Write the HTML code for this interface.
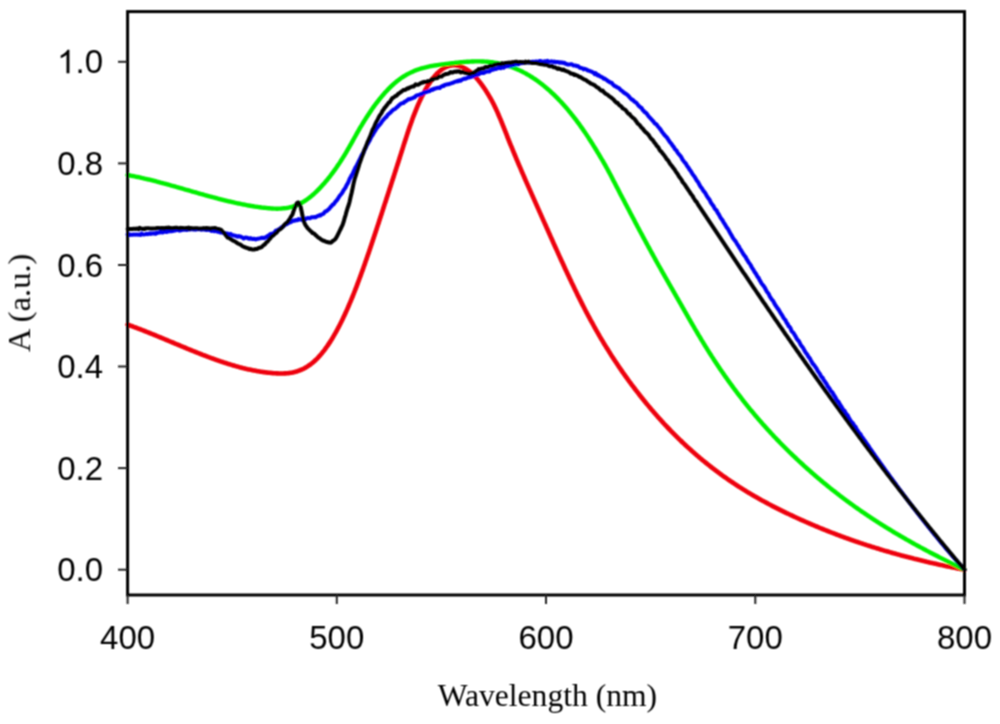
<!DOCTYPE html>
<html><head><meta charset="utf-8"><style>
html,body{margin:0;padding:0;background:#fff;}
body{width:1000px;height:724px;overflow:hidden;font-family:"Liberation Sans",sans-serif;}
svg{display:block;}
</style></head><body>
<svg width="1000" height="724" viewBox="0 0 1000 724">
<defs><filter id="bl" filterUnits="userSpaceOnUse" x="0" y="0" width="1000" height="724"><feConvolveMatrix order="3" kernelMatrix="1 2 1 2 4 2 1 2 1" divisor="16" edgeMode="none"/></filter></defs>
<rect width="1000" height="724" fill="#fff"/>
<g filter="url(#bl)">
<g fill="none" stroke-linejoin="round" stroke-linecap="round">
<path d="M127.6 324.6 L128.6 325.0 L129.6 325.3 L130.6 325.7 L131.6 326.0 L132.6 326.4 L133.6 326.8 L134.6 327.2 L135.6 327.5 L136.6 327.9 L137.6 328.3 L138.6 328.7 L139.6 329.0 L140.6 329.4 L141.6 329.8 L142.6 330.2 L143.6 330.6 L144.6 331.0 L145.6 331.4 L146.6 331.8 L147.6 332.2 L148.6 332.6 L149.6 333.0 L150.6 333.4 L151.6 333.8 L152.6 334.2 L153.6 334.6 L154.6 335.0 L155.6 335.4 L156.6 335.8 L157.6 336.3 L158.6 336.7 L159.6 337.1 L160.6 337.5 L161.6 337.9 L162.6 338.3 L163.6 338.7 L164.6 339.2 L165.6 339.6 L166.6 340.0 L167.6 340.4 L168.6 340.8 L169.6 341.3 L170.6 341.7 L171.6 342.1 L172.6 342.5 L173.6 342.9 L174.6 343.4 L175.6 343.8 L176.6 344.2 L177.6 344.6 L178.6 345.0 L179.6 345.4 L180.6 345.9 L181.6 346.3 L182.6 346.7 L183.6 347.1 L184.6 347.5 L185.6 347.9 L186.6 348.4 L187.6 348.8 L188.6 349.2 L189.6 349.6 L190.6 350.0 L191.6 350.4 L192.6 350.8 L193.6 351.2 L194.6 351.6 L195.6 352.0 L196.6 352.4 L197.6 352.8 L198.6 353.2 L199.6 353.6 L200.6 354.0 L201.6 354.4 L202.6 354.8 L203.6 355.2 L204.6 355.5 L205.6 355.9 L206.6 356.3 L207.6 356.7 L208.6 357.1 L209.6 357.4 L210.6 357.8 L211.6 358.2 L212.6 358.5 L213.6 358.9 L214.6 359.3 L215.6 359.6 L216.6 360.0 L217.6 360.3 L218.6 360.7 L219.6 361.0 L220.6 361.4 L221.6 361.7 L222.6 362.0 L223.6 362.4 L224.6 362.7 L225.6 363.0 L226.6 363.3 L227.6 363.7 L228.6 364.0 L229.6 364.3 L230.6 364.6 L231.6 364.9 L232.6 365.2 L233.6 365.5 L234.6 365.8 L235.6 366.1 L236.6 366.4 L237.6 366.6 L238.6 366.9 L239.6 367.2 L240.6 367.4 L241.6 367.7 L242.6 368.0 L243.6 368.2 L244.6 368.4 L245.6 368.7 L246.6 368.9 L247.6 369.2 L248.6 369.4 L249.6 369.6 L250.6 369.8 L251.6 370.0 L252.6 370.2 L253.6 370.4 L254.6 370.6 L255.6 370.8 L256.6 371.0 L257.6 371.2 L258.6 371.3 L259.6 371.5 L260.6 371.7 L261.6 371.8 L262.6 372.0 L263.6 372.1 L264.6 372.3 L265.6 372.4 L266.6 372.5 L267.6 372.6 L268.6 372.7 L269.6 372.8 L270.6 372.9 L271.6 373.0 L272.6 373.1 L273.6 373.2 L274.6 373.3 L275.6 373.3 L276.6 373.4 L277.6 373.4 L278.6 373.5 L279.6 373.5 L280.6 373.5 L281.6 373.5 L282.6 373.5 L283.6 373.5 L284.6 373.4 L285.6 373.4 L286.6 373.3 L287.6 373.2 L288.6 373.1 L289.6 373.0 L290.6 372.8 L291.6 372.7 L292.6 372.5 L293.6 372.2 L294.6 372.0 L295.6 371.7 L296.6 371.5 L297.6 371.1 L298.6 370.8 L299.6 370.4 L300.6 370.0 L301.6 369.6 L302.6 369.2 L303.6 368.7 L304.6 368.1 L305.6 367.6 L306.6 367.0 L307.6 366.4 L308.6 365.7 L309.6 365.0 L310.6 364.3 L311.6 363.5 L312.6 362.7 L313.6 361.9 L314.6 361.0 L315.6 360.0 L316.6 359.1 L317.6 358.1 L318.6 357.0 L319.6 355.9 L320.6 354.8 L321.6 353.6 L322.6 352.3 L323.6 351.1 L324.6 349.8 L325.6 348.4 L326.6 347.0 L327.6 345.6 L328.6 344.1 L329.6 342.6 L330.6 341.1 L331.6 339.5 L332.6 337.8 L333.6 336.1 L334.6 334.4 L335.6 332.7 L336.6 330.9 L337.6 329.0 L338.6 327.1 L339.6 325.2 L340.6 323.2 L341.6 321.2 L342.6 319.2 L343.6 317.1 L344.6 315.0 L345.6 312.8 L346.6 310.6 L347.6 308.3 L348.6 306.0 L349.6 303.7 L350.6 301.3 L351.6 298.9 L352.6 296.5 L353.6 294.0 L354.6 291.5 L355.6 288.9 L356.6 286.3 L357.6 283.7 L358.6 281.0 L359.6 278.3 L360.6 275.6 L361.6 272.8 L362.6 270.1 L363.6 267.3 L364.6 264.4 L365.6 261.6 L366.6 258.7 L367.6 255.8 L368.6 252.9 L369.6 249.9 L370.6 247.0 L371.6 244.0 L372.6 241.0 L373.6 238.0 L374.6 235.0 L375.6 232.0 L376.6 229.0 L377.6 225.9 L378.6 222.9 L379.6 219.8 L380.6 216.7 L381.6 213.7 L382.6 210.6 L383.6 207.5 L384.6 204.4 L385.6 201.4 L386.6 198.3 L387.6 195.2 L388.6 192.1 L389.6 189.1 L390.6 186.0 L391.6 182.9 L392.6 179.8 L393.6 176.7 L394.6 173.6 L395.6 170.5 L396.6 167.4 L397.6 164.3 L398.6 161.2 L399.6 158.0 L400.6 154.9 L401.6 151.7 L402.6 148.6 L403.6 145.4 L404.6 142.3 L405.6 139.2 L406.6 136.1 L407.6 133.1 L408.6 130.1 L409.6 127.1 L410.6 124.2 L411.6 121.4 L412.6 118.6 L413.6 115.9 L414.6 113.3 L415.6 110.8 L416.6 108.3 L417.6 105.9 L418.6 103.6 L419.6 101.4 L420.6 99.2 L421.6 97.1 L422.6 95.1 L423.6 93.1 L424.6 91.3 L425.6 89.4 L426.6 87.7 L427.6 86.0 L428.6 84.4 L429.6 82.9 L430.6 81.4 L431.6 80.0 L432.6 78.7 L433.6 77.4 L434.6 76.2 L435.6 75.1 L436.6 74.0 L437.6 73.0 L438.6 72.1 L439.6 71.2 L440.6 70.4 L441.6 69.6 L442.6 68.9 L443.6 68.3 L444.6 67.7 L445.6 67.2 L446.6 66.8 L447.6 66.4 L448.6 66.0 L449.6 65.8 L450.6 65.5 L451.6 65.4 L452.6 65.3 L453.6 65.2 L454.6 65.2 L455.6 65.3 L456.6 65.4 L457.6 65.5 L458.6 65.8 L459.6 66.0 L460.6 66.4 L461.6 66.7 L462.6 67.2 L463.6 67.6 L464.6 68.2 L465.6 68.7 L466.6 69.4 L467.6 70.0 L468.6 70.8 L469.6 71.5 L470.6 72.4 L471.6 73.2 L472.6 74.1 L473.6 75.1 L474.6 76.1 L475.6 77.2 L476.6 78.3 L477.6 79.4 L478.6 80.6 L479.6 81.9 L480.6 83.2 L481.6 84.5 L482.6 85.9 L483.6 87.3 L484.6 88.8 L485.6 90.3 L486.6 91.9 L487.6 93.5 L488.6 95.1 L489.6 96.8 L490.6 98.5 L491.6 100.3 L492.6 102.2 L493.6 104.1 L494.6 106.2 L495.6 108.3 L496.6 110.4 L497.6 112.7 L498.6 115.0 L499.6 117.3 L500.6 119.7 L501.6 122.2 L502.6 124.7 L503.6 127.2 L504.6 129.7 L505.6 132.2 L506.6 134.7 L507.6 137.3 L508.6 139.8 L509.6 142.3 L510.6 144.8 L511.6 147.2 L512.6 149.7 L513.6 152.1 L514.6 154.5 L515.6 156.9 L516.6 159.3 L517.6 161.7 L518.6 164.1 L519.6 166.4 L520.6 168.7 L521.6 171.1 L522.6 173.4 L523.6 175.7 L524.6 178.0 L525.6 180.3 L526.6 182.6 L527.6 184.9 L528.6 187.1 L529.6 189.4 L530.6 191.7 L531.6 193.9 L532.6 196.2 L533.6 198.4 L534.6 200.7 L535.6 202.9 L536.6 205.2 L537.6 207.4 L538.6 209.6 L539.6 211.9 L540.6 214.1 L541.6 216.4 L542.6 218.6 L543.6 220.9 L544.6 223.1 L545.6 225.3 L546.6 227.6 L547.6 229.8 L548.6 232.1 L549.6 234.3 L550.6 236.6 L551.6 238.8 L552.6 241.0 L553.6 243.3 L554.6 245.5 L555.6 247.7 L556.6 249.9 L557.6 252.1 L558.6 254.4 L559.6 256.6 L560.6 258.8 L561.6 261.0 L562.6 263.1 L563.6 265.3 L564.6 267.5 L565.6 269.7 L566.6 271.8 L567.6 274.0 L568.6 276.1 L569.6 278.2 L570.6 280.3 L571.6 282.5 L572.6 284.5 L573.6 286.6 L574.6 288.7 L575.6 290.8 L576.6 292.8 L577.6 294.9 L578.6 296.9 L579.6 298.9 L580.6 300.9 L581.6 302.9 L582.6 304.9 L583.6 306.8 L584.6 308.8 L585.6 310.7 L586.6 312.6 L587.6 314.5 L588.6 316.4 L589.6 318.2 L590.6 320.1 L591.6 321.9 L592.6 323.7 L593.6 325.5 L594.6 327.3 L595.6 329.1 L596.6 330.9 L597.6 332.6 L598.6 334.3 L599.6 336.1 L600.6 337.8 L601.6 339.5 L602.6 341.1 L603.6 342.8 L604.6 344.5 L605.6 346.1 L606.6 347.7 L607.6 349.3 L608.6 350.9 L609.6 352.5 L610.6 354.1 L611.6 355.7 L612.6 357.2 L613.6 358.7 L614.6 360.3 L615.6 361.8 L616.6 363.3 L617.6 364.8 L618.6 366.3 L619.6 367.7 L620.6 369.2 L621.6 370.6 L622.6 372.1 L623.6 373.5 L624.6 374.9 L625.6 376.3 L626.6 377.7 L627.6 379.1 L628.6 380.5 L629.6 381.9 L630.6 383.2 L631.6 384.6 L632.6 385.9 L633.6 387.2 L634.6 388.5 L635.6 389.8 L636.6 391.1 L637.6 392.4 L638.6 393.7 L639.6 395.0 L640.6 396.3 L641.6 397.5 L642.6 398.8 L643.6 400.0 L644.6 401.2 L645.6 402.5 L646.6 403.7 L647.6 404.9 L648.6 406.1 L649.6 407.3 L650.6 408.5 L651.6 409.7 L652.6 410.8 L653.6 412.0 L654.6 413.1 L655.6 414.3 L656.6 415.4 L657.6 416.6 L658.6 417.7 L659.6 418.8 L660.6 419.9 L661.6 421.0 L662.6 422.1 L663.6 423.2 L664.6 424.3 L665.6 425.3 L666.6 426.4 L667.6 427.5 L668.6 428.5 L669.6 429.5 L670.6 430.6 L671.6 431.6 L672.6 432.6 L673.6 433.6 L674.6 434.6 L675.6 435.6 L676.6 436.6 L677.6 437.6 L678.6 438.6 L679.6 439.6 L680.6 440.5 L681.6 441.5 L682.6 442.5 L683.6 443.4 L684.6 444.3 L685.6 445.3 L686.6 446.2 L687.6 447.1 L688.6 448.0 L689.6 448.9 L690.6 449.8 L691.6 450.7 L692.6 451.6 L693.6 452.5 L694.6 453.4 L695.6 454.3 L696.6 455.1 L697.6 456.0 L698.6 456.8 L699.6 457.7 L700.6 458.5 L701.6 459.4 L702.6 460.2 L703.6 461.0 L704.6 461.8 L705.6 462.6 L706.6 463.4 L707.6 464.2 L708.6 465.0 L709.6 465.8 L710.6 466.6 L711.6 467.4 L712.6 468.2 L713.6 468.9 L714.6 469.7 L715.6 470.4 L716.6 471.2 L717.6 471.9 L718.6 472.7 L719.6 473.4 L720.6 474.1 L721.6 474.9 L722.6 475.6 L723.6 476.3 L724.6 477.0 L725.6 477.7 L726.6 478.4 L727.6 479.1 L728.6 479.8 L729.6 480.5 L730.6 481.2 L731.6 481.8 L732.6 482.5 L733.6 483.2 L734.6 483.9 L735.6 484.5 L736.6 485.2 L737.6 485.8 L738.6 486.5 L739.6 487.1 L740.6 487.7 L741.6 488.4 L742.6 489.0 L743.6 489.6 L744.6 490.2 L745.6 490.9 L746.6 491.5 L747.6 492.1 L748.6 492.7 L749.6 493.3 L750.6 493.9 L751.6 494.5 L752.6 495.1 L753.6 495.6 L754.6 496.2 L755.6 496.8 L756.6 497.4 L757.6 497.9 L758.6 498.5 L759.6 499.1 L760.6 499.6 L761.6 500.2 L762.6 500.7 L763.6 501.3 L764.6 501.8 L765.6 502.4 L766.6 502.9 L767.6 503.4 L768.6 504.0 L769.6 504.5 L770.6 505.0 L771.6 505.6 L772.6 506.1 L773.6 506.6 L774.6 507.1 L775.6 507.6 L776.6 508.1 L777.6 508.6 L778.6 509.1 L779.6 509.6 L780.6 510.1 L781.6 510.6 L782.6 511.1 L783.6 511.6 L784.6 512.1 L785.6 512.6 L786.6 513.1 L787.6 513.5 L788.6 514.0 L789.6 514.5 L790.6 515.0 L791.6 515.4 L792.6 515.9 L793.6 516.4 L794.6 516.8 L795.6 517.3 L796.6 517.7 L797.6 518.2 L798.6 518.7 L799.6 519.1 L800.6 519.6 L801.6 520.0 L802.6 520.5 L803.6 520.9 L804.6 521.3 L805.6 521.8 L806.6 522.2 L807.6 522.7 L808.6 523.1 L809.6 523.5 L810.6 524.0 L811.6 524.4 L812.6 524.8 L813.6 525.2 L814.6 525.7 L815.6 526.1 L816.6 526.5 L817.6 526.9 L818.6 527.3 L819.6 527.8 L820.6 528.2 L821.6 528.6 L822.6 529.0 L823.6 529.4 L824.6 529.8 L825.6 530.2 L826.6 530.6 L827.6 531.0 L828.6 531.4 L829.6 531.8 L830.6 532.2 L831.6 532.6 L832.6 532.9 L833.6 533.3 L834.6 533.7 L835.6 534.1 L836.6 534.5 L837.6 534.9 L838.6 535.2 L839.6 535.6 L840.6 536.0 L841.6 536.4 L842.6 536.7 L843.6 537.1 L844.6 537.5 L845.6 537.8 L846.6 538.2 L847.6 538.5 L848.6 538.9 L849.6 539.3 L850.6 539.6 L851.6 540.0 L852.6 540.3 L853.6 540.7 L854.6 541.0 L855.6 541.4 L856.6 541.7 L857.6 542.0 L858.6 542.4 L859.6 542.7 L860.6 543.1 L861.6 543.4 L862.6 543.7 L863.6 544.1 L864.6 544.4 L865.6 544.7 L866.6 545.1 L867.6 545.4 L868.6 545.7 L869.6 546.0 L870.6 546.3 L871.6 546.7 L872.6 547.0 L873.6 547.3 L874.6 547.6 L875.6 547.9 L876.6 548.2 L877.6 548.5 L878.6 548.8 L879.6 549.1 L880.6 549.5 L881.6 549.8 L882.6 550.1 L883.6 550.4 L884.6 550.7 L885.6 550.9 L886.6 551.2 L887.6 551.5 L888.6 551.8 L889.6 552.1 L890.6 552.4 L891.6 552.7 L892.6 553.0 L893.6 553.3 L894.6 553.5 L895.6 553.8 L896.6 554.1 L897.6 554.4 L898.6 554.6 L899.6 554.9 L900.6 555.2 L901.6 555.5 L902.6 555.7 L903.6 556.0 L904.6 556.3 L905.6 556.5 L906.6 556.8 L907.6 557.1 L908.6 557.3 L909.6 557.6 L910.6 557.8 L911.6 558.1 L912.6 558.3 L913.6 558.6 L914.6 558.9 L915.6 559.1 L916.6 559.3 L917.6 559.6 L918.6 559.8 L919.6 560.1 L920.6 560.3 L921.6 560.6 L922.6 560.8 L923.6 561.1 L924.6 561.3 L925.6 561.5 L926.6 561.8 L927.6 562.0 L928.6 562.2 L929.6 562.5 L930.6 562.7 L931.6 562.9 L932.6 563.1 L933.6 563.4 L934.6 563.6 L935.6 563.8 L936.6 564.0 L937.6 564.3 L938.6 564.5 L939.6 564.7 L940.6 564.9 L941.6 565.1 L942.6 565.3 L943.6 565.5 L944.6 565.8 L945.6 566.0 L946.6 566.2 L947.6 566.4 L948.6 566.6 L949.6 566.8 L950.6 567.0 L951.6 567.2 L952.6 567.4 L953.6 567.6 L954.6 567.8 L955.6 568.0 L956.6 568.2 L957.6 568.4 L958.6 568.6 L959.6 568.8 L960.6 569.0 L961.6 569.2 L962.6 569.3 L963.6 569.5 L964.5 569.7" stroke="#ee0008" stroke-width="4.60"/>
<path d="M127.6 175.0 L128.6 175.2 L129.6 175.4 L130.6 175.6 L131.6 175.8 L132.6 176.0 L133.6 176.2 L134.6 176.4 L135.6 176.6 L136.6 176.8 L137.6 177.0 L138.6 177.2 L139.6 177.4 L140.6 177.6 L141.6 177.9 L142.6 178.1 L143.6 178.3 L144.6 178.6 L145.6 178.8 L146.6 179.0 L147.6 179.3 L148.6 179.5 L149.6 179.7 L150.6 180.0 L151.6 180.2 L152.6 180.5 L153.6 180.7 L154.6 181.0 L155.6 181.2 L156.6 181.5 L157.6 181.8 L158.6 182.0 L159.6 182.3 L160.6 182.6 L161.6 182.8 L162.6 183.1 L163.6 183.4 L164.6 183.6 L165.6 183.9 L166.6 184.2 L167.6 184.5 L168.6 184.7 L169.6 185.0 L170.6 185.3 L171.6 185.6 L172.6 185.8 L173.6 186.1 L174.6 186.4 L175.6 186.7 L176.6 187.0 L177.6 187.3 L178.6 187.5 L179.6 187.8 L180.6 188.1 L181.6 188.4 L182.6 188.7 L183.6 189.0 L184.6 189.3 L185.6 189.6 L186.6 189.8 L187.6 190.1 L188.6 190.4 L189.6 190.7 L190.6 191.0 L191.6 191.3 L192.6 191.6 L193.6 191.9 L194.6 192.1 L195.6 192.4 L196.6 192.7 L197.6 193.0 L198.6 193.3 L199.6 193.6 L200.6 193.9 L201.6 194.1 L202.6 194.4 L203.6 194.7 L204.6 195.0 L205.6 195.3 L206.6 195.5 L207.6 195.8 L208.6 196.1 L209.6 196.4 L210.6 196.6 L211.6 196.9 L212.6 197.2 L213.6 197.4 L214.6 197.7 L215.6 198.0 L216.6 198.2 L217.6 198.5 L218.6 198.8 L219.6 199.0 L220.6 199.3 L221.6 199.5 L222.6 199.8 L223.6 200.0 L224.6 200.3 L225.6 200.5 L226.6 200.8 L227.6 201.0 L228.6 201.3 L229.6 201.5 L230.6 201.7 L231.6 202.0 L232.6 202.2 L233.6 202.4 L234.6 202.7 L235.6 202.9 L236.6 203.1 L237.6 203.3 L238.6 203.5 L239.6 203.7 L240.6 203.9 L241.6 204.1 L242.6 204.3 L243.6 204.5 L244.6 204.7 L245.6 204.9 L246.6 205.1 L247.6 205.3 L248.6 205.5 L249.6 205.7 L250.6 205.8 L251.6 206.0 L252.6 206.2 L253.6 206.3 L254.6 206.5 L255.6 206.6 L256.6 206.8 L257.6 206.9 L258.6 207.1 L259.6 207.2 L260.6 207.3 L261.6 207.5 L262.6 207.6 L263.6 207.7 L264.6 207.8 L265.6 207.9 L266.6 208.0 L267.6 208.1 L268.6 208.2 L269.6 208.3 L270.6 208.4 L271.6 208.5 L272.6 208.5 L273.6 208.6 L274.6 208.6 L275.6 208.6 L276.6 208.7 L277.6 208.7 L278.6 208.6 L279.6 208.6 L280.6 208.6 L281.6 208.5 L282.6 208.4 L283.6 208.3 L284.6 208.2 L285.6 208.1 L286.6 208.0 L287.6 207.8 L288.6 207.6 L289.6 207.4 L290.6 207.1 L291.6 206.9 L292.6 206.6 L293.6 206.3 L294.6 205.9 L295.6 205.6 L296.6 205.2 L297.6 204.8 L298.6 204.3 L299.6 203.9 L300.6 203.4 L301.6 202.8 L302.6 202.3 L303.6 201.7 L304.6 201.0 L305.6 200.4 L306.6 199.7 L307.6 199.0 L308.6 198.3 L309.6 197.5 L310.6 196.7 L311.6 195.9 L312.6 195.0 L313.6 194.2 L314.6 193.3 L315.6 192.3 L316.6 191.4 L317.6 190.4 L318.6 189.4 L319.6 188.4 L320.6 187.3 L321.6 186.2 L322.6 185.1 L323.6 184.0 L324.6 182.9 L325.6 181.7 L326.6 180.5 L327.6 179.3 L328.6 178.0 L329.6 176.8 L330.6 175.5 L331.6 174.2 L332.6 172.9 L333.6 171.5 L334.6 170.1 L335.6 168.7 L336.6 167.3 L337.6 165.8 L338.6 164.4 L339.6 162.9 L340.6 161.3 L341.6 159.8 L342.6 158.2 L343.6 156.6 L344.6 155.0 L345.6 153.3 L346.6 151.6 L347.6 149.9 L348.6 148.2 L349.6 146.4 L350.6 144.7 L351.6 142.9 L352.6 141.1 L353.6 139.3 L354.6 137.5 L355.6 135.7 L356.6 133.9 L357.6 132.1 L358.6 130.4 L359.6 128.6 L360.6 126.9 L361.6 125.3 L362.6 123.6 L363.6 122.0 L364.6 120.4 L365.6 118.8 L366.6 117.2 L367.6 115.7 L368.6 114.2 L369.6 112.7 L370.6 111.2 L371.6 109.7 L372.6 108.3 L373.6 106.9 L374.6 105.5 L375.6 104.2 L376.6 102.9 L377.6 101.6 L378.6 100.3 L379.6 99.0 L380.6 97.8 L381.6 96.6 L382.6 95.4 L383.6 94.3 L384.6 93.1 L385.6 92.0 L386.6 91.0 L387.6 89.9 L388.6 88.9 L389.6 87.9 L390.6 86.9 L391.6 85.9 L392.6 85.0 L393.6 84.1 L394.6 83.2 L395.6 82.4 L396.6 81.5 L397.6 80.7 L398.6 80.0 L399.6 79.2 L400.6 78.5 L401.6 77.8 L402.6 77.1 L403.6 76.5 L404.6 75.9 L405.6 75.3 L406.6 74.7 L407.6 74.1 L408.6 73.6 L409.6 73.1 L410.6 72.6 L411.6 72.1 L412.6 71.7 L413.6 71.2 L414.6 70.8 L415.6 70.4 L416.6 70.0 L417.6 69.7 L418.6 69.3 L419.6 69.0 L420.6 68.7 L421.6 68.4 L422.6 68.1 L423.6 67.8 L424.6 67.6 L425.6 67.3 L426.6 67.1 L427.6 66.8 L428.6 66.6 L429.6 66.4 L430.6 66.2 L431.6 66.0 L432.6 65.9 L433.6 65.7 L434.6 65.5 L435.6 65.4 L436.6 65.2 L437.6 65.1 L438.6 64.9 L439.6 64.8 L440.6 64.6 L441.6 64.5 L442.6 64.4 L443.6 64.3 L444.6 64.1 L445.6 64.0 L446.6 63.9 L447.6 63.8 L448.6 63.6 L449.6 63.5 L450.6 63.4 L451.6 63.3 L452.6 63.2 L453.6 63.1 L454.6 62.9 L455.6 62.8 L456.6 62.7 L457.6 62.6 L458.6 62.5 L459.6 62.4 L460.6 62.3 L461.6 62.2 L462.6 62.1 L463.6 62.0 L464.6 62.0 L465.6 61.9 L466.6 61.8 L467.6 61.7 L468.6 61.7 L469.6 61.6 L470.6 61.6 L471.6 61.5 L472.6 61.5 L473.6 61.5 L474.6 61.4 L475.6 61.4 L476.6 61.4 L477.6 61.4 L478.6 61.4 L479.6 61.4 L480.6 61.4 L481.6 61.5 L482.6 61.5 L483.6 61.5 L484.6 61.6 L485.6 61.6 L486.6 61.7 L487.6 61.8 L488.6 61.9 L489.6 62.0 L490.6 62.1 L491.6 62.2 L492.6 62.3 L493.6 62.5 L494.6 62.6 L495.6 62.8 L496.6 63.0 L497.6 63.2 L498.6 63.4 L499.6 63.6 L500.6 63.8 L501.6 64.0 L502.6 64.3 L503.6 64.5 L504.6 64.8 L505.6 65.1 L506.6 65.4 L507.6 65.7 L508.6 66.0 L509.6 66.3 L510.6 66.7 L511.6 67.0 L512.6 67.4 L513.6 67.8 L514.6 68.2 L515.6 68.6 L516.6 69.0 L517.6 69.5 L518.6 69.9 L519.6 70.4 L520.6 70.9 L521.6 71.3 L522.6 71.8 L523.6 72.4 L524.6 72.9 L525.6 73.4 L526.6 74.0 L527.6 74.6 L528.6 75.1 L529.6 75.7 L530.6 76.4 L531.6 77.0 L532.6 77.6 L533.6 78.3 L534.6 78.9 L535.6 79.6 L536.6 80.3 L537.6 81.0 L538.6 81.8 L539.6 82.5 L540.6 83.3 L541.6 84.0 L542.6 84.8 L543.6 85.6 L544.6 86.4 L545.6 87.3 L546.6 88.1 L547.6 89.0 L548.6 89.8 L549.6 90.7 L550.6 91.6 L551.6 92.6 L552.6 93.5 L553.6 94.4 L554.6 95.4 L555.6 96.4 L556.6 97.4 L557.6 98.4 L558.6 99.4 L559.6 100.5 L560.6 101.5 L561.6 102.6 L562.6 103.7 L563.6 104.8 L564.6 105.9 L565.6 107.1 L566.6 108.2 L567.6 109.4 L568.6 110.6 L569.6 111.8 L570.6 113.0 L571.6 114.3 L572.6 115.5 L573.6 116.8 L574.6 118.1 L575.6 119.4 L576.6 120.7 L577.6 122.1 L578.6 123.4 L579.6 124.8 L580.6 126.2 L581.6 127.6 L582.6 129.0 L583.6 130.5 L584.6 131.9 L585.6 133.4 L586.6 134.9 L587.6 136.4 L588.6 137.9 L589.6 139.5 L590.6 141.0 L591.6 142.6 L592.6 144.2 L593.6 145.8 L594.6 147.4 L595.6 149.0 L596.6 150.6 L597.6 152.3 L598.6 153.9 L599.6 155.6 L600.6 157.3 L601.6 159.0 L602.6 160.7 L603.6 162.4 L604.6 164.2 L605.6 165.9 L606.6 167.7 L607.6 169.5 L608.6 171.4 L609.6 173.2 L610.6 175.1 L611.6 177.0 L612.6 179.0 L613.6 180.9 L614.6 182.8 L615.6 184.7 L616.6 186.7 L617.6 188.6 L618.6 190.5 L619.6 192.4 L620.6 194.4 L621.6 196.3 L622.6 198.2 L623.6 200.1 L624.6 202.0 L625.6 203.9 L626.6 205.8 L627.6 207.7 L628.6 209.6 L629.6 211.5 L630.6 213.4 L631.6 215.3 L632.6 217.2 L633.6 219.1 L634.6 221.0 L635.6 222.9 L636.6 224.8 L637.6 226.7 L638.6 228.5 L639.6 230.4 L640.6 232.3 L641.6 234.1 L642.6 236.0 L643.6 237.9 L644.6 239.7 L645.6 241.6 L646.6 243.4 L647.6 245.3 L648.6 247.1 L649.6 248.9 L650.6 250.8 L651.6 252.6 L652.6 254.4 L653.6 256.2 L654.6 258.0 L655.6 259.9 L656.6 261.7 L657.6 263.5 L658.6 265.3 L659.6 267.0 L660.6 268.8 L661.6 270.6 L662.6 272.4 L663.6 274.1 L664.6 275.9 L665.6 277.7 L666.6 279.4 L667.6 281.2 L668.6 282.9 L669.6 284.7 L670.6 286.4 L671.6 288.2 L672.6 289.9 L673.6 291.6 L674.6 293.4 L675.6 295.1 L676.6 296.9 L677.6 298.6 L678.6 300.4 L679.6 302.1 L680.6 303.8 L681.6 305.6 L682.6 307.4 L683.6 309.1 L684.6 310.9 L685.6 312.6 L686.6 314.4 L687.6 316.1 L688.6 317.9 L689.6 319.6 L690.6 321.4 L691.6 323.1 L692.6 324.8 L693.6 326.5 L694.6 328.3 L695.6 330.0 L696.6 331.7 L697.6 333.4 L698.6 335.1 L699.6 336.7 L700.6 338.4 L701.6 340.1 L702.6 341.7 L703.6 343.3 L704.6 345.0 L705.6 346.6 L706.6 348.2 L707.6 349.8 L708.6 351.4 L709.6 353.0 L710.6 354.5 L711.6 356.1 L712.6 357.6 L713.6 359.2 L714.6 360.7 L715.6 362.2 L716.6 363.7 L717.6 365.2 L718.6 366.7 L719.6 368.2 L720.6 369.7 L721.6 371.1 L722.6 372.6 L723.6 374.0 L724.6 375.5 L725.6 376.9 L726.6 378.3 L727.6 379.7 L728.6 381.1 L729.6 382.5 L730.6 383.9 L731.6 385.2 L732.6 386.6 L733.6 388.0 L734.6 389.3 L735.6 390.7 L736.6 392.0 L737.6 393.3 L738.6 394.6 L739.6 395.9 L740.6 397.2 L741.6 398.5 L742.6 399.8 L743.6 401.1 L744.6 402.3 L745.6 403.6 L746.6 404.8 L747.6 406.1 L748.6 407.3 L749.6 408.6 L750.6 409.8 L751.6 411.0 L752.6 412.2 L753.6 413.4 L754.6 414.6 L755.6 415.8 L756.6 416.9 L757.6 418.1 L758.6 419.3 L759.6 420.4 L760.6 421.6 L761.6 422.7 L762.6 423.9 L763.6 425.0 L764.6 426.1 L765.6 427.2 L766.6 428.3 L767.6 429.4 L768.6 430.5 L769.6 431.6 L770.6 432.7 L771.6 433.8 L772.6 434.8 L773.6 435.9 L774.6 437.0 L775.6 438.0 L776.6 439.1 L777.6 440.1 L778.6 441.1 L779.6 442.2 L780.6 443.2 L781.6 444.2 L782.6 445.2 L783.6 446.2 L784.6 447.2 L785.6 448.2 L786.6 449.2 L787.6 450.2 L788.6 451.2 L789.6 452.2 L790.6 453.2 L791.6 454.1 L792.6 455.1 L793.6 456.0 L794.6 457.0 L795.6 457.9 L796.6 458.9 L797.6 459.8 L798.6 460.8 L799.6 461.7 L800.6 462.6 L801.6 463.5 L802.6 464.4 L803.6 465.4 L804.6 466.3 L805.6 467.2 L806.6 468.1 L807.6 469.0 L808.6 469.8 L809.6 470.7 L810.6 471.6 L811.6 472.5 L812.6 473.4 L813.6 474.2 L814.6 475.1 L815.6 476.0 L816.6 476.8 L817.6 477.7 L818.6 478.5 L819.6 479.3 L820.6 480.2 L821.6 481.0 L822.6 481.9 L823.6 482.7 L824.6 483.5 L825.6 484.3 L826.6 485.1 L827.6 486.0 L828.6 486.8 L829.6 487.6 L830.6 488.4 L831.6 489.2 L832.6 490.0 L833.6 490.7 L834.6 491.5 L835.6 492.3 L836.6 493.1 L837.6 493.9 L838.6 494.6 L839.6 495.4 L840.6 496.2 L841.6 496.9 L842.6 497.7 L843.6 498.4 L844.6 499.2 L845.6 499.9 L846.6 500.7 L847.6 501.4 L848.6 502.1 L849.6 502.9 L850.6 503.6 L851.6 504.3 L852.6 505.0 L853.6 505.7 L854.6 506.5 L855.6 507.2 L856.6 507.9 L857.6 508.6 L858.6 509.3 L859.6 510.0 L860.6 510.7 L861.6 511.4 L862.6 512.1 L863.6 512.7 L864.6 513.4 L865.6 514.1 L866.6 514.8 L867.6 515.5 L868.6 516.1 L869.6 516.8 L870.6 517.5 L871.6 518.1 L872.6 518.8 L873.6 519.4 L874.6 520.1 L875.6 520.7 L876.6 521.4 L877.6 522.0 L878.6 522.7 L879.6 523.3 L880.6 523.9 L881.6 524.6 L882.6 525.2 L883.6 525.8 L884.6 526.4 L885.6 527.1 L886.6 527.7 L887.6 528.3 L888.6 528.9 L889.6 529.5 L890.6 530.1 L891.6 530.7 L892.6 531.4 L893.6 532.0 L894.6 532.6 L895.6 533.2 L896.6 533.7 L897.6 534.3 L898.6 534.9 L899.6 535.5 L900.6 536.1 L901.6 536.7 L902.6 537.3 L903.6 537.8 L904.6 538.4 L905.6 539.0 L906.6 539.6 L907.6 540.1 L908.6 540.7 L909.6 541.3 L910.6 541.8 L911.6 542.4 L912.6 543.0 L913.6 543.5 L914.6 544.1 L915.6 544.6 L916.6 545.2 L917.6 545.7 L918.6 546.3 L919.6 546.8 L920.6 547.4 L921.6 547.9 L922.6 548.4 L923.6 549.0 L924.6 549.5 L925.6 550.0 L926.6 550.6 L927.6 551.1 L928.6 551.6 L929.6 552.2 L930.6 552.7 L931.6 553.2 L932.6 553.7 L933.6 554.3 L934.6 554.8 L935.6 555.3 L936.6 555.8 L937.6 556.3 L938.6 556.8 L939.6 557.4 L940.6 557.9 L941.6 558.4 L942.6 558.9 L943.6 559.4 L944.6 559.9 L945.6 560.4 L946.6 560.9 L947.6 561.4 L948.6 561.9 L949.6 562.4 L950.6 562.9 L951.6 563.4 L952.6 563.9 L953.6 564.4 L954.6 564.9 L955.6 565.4 L956.6 565.9 L957.6 566.4 L958.6 566.8 L959.6 567.3 L960.6 567.8 L961.6 568.3 L962.6 568.8 L963.6 569.3 L964.5 569.7" stroke="#06f006" stroke-width="4.40"/>
<path d="M127.6 234.5 L128.6 234.1 L129.6 234.9 L130.6 234.8 L131.6 234.7 L132.6 234.8 L133.6 234.4 L134.6 234.6 L135.6 234.7 L136.6 234.4 L137.6 234.7 L138.6 234.7 L139.6 234.4 L140.6 234.9 L141.6 233.6 L142.6 234.4 L143.6 234.6 L144.6 234.4 L145.6 234.2 L146.6 233.8 L147.6 234.2 L148.6 233.7 L149.6 233.6 L150.6 233.9 L151.6 233.4 L152.6 233.6 L153.6 233.3 L154.6 233.5 L155.6 233.8 L156.6 232.8 L157.6 232.9 L158.6 232.6 L159.6 232.6 L160.6 231.6 L161.6 232.3 L162.6 232.6 L163.6 231.9 L164.6 231.8 L165.6 231.7 L166.6 232.0 L167.6 231.4 L168.6 231.5 L169.6 231.1 L170.6 231.0 L171.6 231.2 L172.6 231.1 L173.6 230.7 L174.6 230.5 L175.6 230.4 L176.6 230.1 L177.6 229.8 L178.6 230.4 L179.6 230.7 L180.6 230.4 L181.6 230.2 L182.6 229.9 L183.6 229.5 L184.6 229.7 L185.6 229.6 L186.6 230.0 L187.6 229.3 L188.6 229.5 L189.6 229.6 L190.6 229.1 L191.6 228.9 L192.6 229.3 L193.6 229.6 L194.6 229.3 L195.6 229.7 L196.6 229.3 L197.6 229.0 L198.6 229.3 L199.6 229.1 L200.6 229.5 L201.6 229.7 L202.6 229.4 L203.6 229.4 L204.6 229.6 L205.6 229.9 L206.6 230.1 L207.6 229.5 L208.6 229.7 L209.6 230.1 L210.6 230.4 L211.6 230.9 L212.6 230.5 L213.6 230.9 L214.6 231.3 L215.6 230.8 L216.6 231.3 L217.6 231.8 L218.6 231.5 L219.6 232.2 L220.6 232.6 L221.6 232.3 L222.6 232.6 L223.6 232.9 L224.6 233.4 L225.6 233.5 L226.6 233.6 L227.6 233.6 L228.6 234.1 L229.6 234.6 L230.6 233.9 L231.6 234.6 L232.6 235.2 L233.6 235.3 L234.6 235.7 L235.6 235.7 L236.6 236.3 L237.6 236.7 L238.6 236.1 L239.6 236.6 L240.6 236.6 L241.6 237.1 L242.6 237.5 L243.6 238.5 L244.6 237.8 L245.6 237.5 L246.6 237.8 L247.6 237.8 L248.6 238.6 L249.6 238.8 L250.6 238.1 L251.6 238.7 L252.6 239.1 L253.6 238.8 L254.6 238.7 L255.6 239.5 L256.6 238.9 L257.6 238.8 L258.6 238.7 L259.6 238.4 L260.6 238.2 L261.6 237.8 L262.6 237.8 L263.6 238.0 L264.6 237.9 L265.6 237.2 L266.6 237.0 L267.6 236.0 L268.6 235.7 L269.6 234.6 L270.6 233.9 L271.6 233.7 L272.6 233.8 L273.6 233.1 L274.6 232.3 L275.6 230.9 L276.6 230.4 L277.6 230.6 L278.6 229.4 L279.6 229.1 L280.6 228.0 L281.6 227.2 L282.6 226.9 L283.6 226.1 L284.6 225.1 L285.6 224.0 L286.6 224.3 L287.6 223.4 L288.6 223.0 L289.6 222.3 L290.6 222.2 L291.6 221.7 L292.6 221.0 L293.6 220.6 L294.6 220.7 L295.6 220.1 L296.6 220.2 L297.6 220.3 L298.6 219.1 L299.6 219.5 L300.6 219.5 L301.6 219.7 L302.6 219.0 L303.6 218.9 L304.6 219.0 L305.6 218.9 L306.6 218.4 L307.6 218.1 L308.6 218.1 L309.6 218.3 L310.6 217.9 L311.6 217.2 L312.6 217.3 L313.6 217.3 L314.6 217.0 L315.6 217.2 L316.6 216.6 L317.6 216.0 L318.6 215.8 L319.6 215.1 L320.6 215.5 L321.6 214.4 L322.6 214.1 L323.6 213.7 L324.6 212.2 L325.6 211.2 L326.6 211.2 L327.6 210.1 L328.6 209.4 L329.6 208.3 L330.6 206.9 L331.6 206.1 L332.6 204.7 L333.6 204.3 L334.6 202.9 L335.6 201.5 L336.6 200.6 L337.6 199.1 L338.6 197.6 L339.6 195.9 L340.6 194.9 L341.6 193.6 L342.6 192.1 L343.6 190.2 L344.6 188.8 L345.6 187.3 L346.6 185.2 L347.6 183.7 L348.6 181.6 L349.6 178.9 L350.6 177.3 L351.6 175.2 L352.6 173.8 L353.6 171.5 L354.6 169.3 L355.6 167.2 L356.6 165.8 L357.6 163.6 L358.6 161.8 L359.6 159.6 L360.6 157.7 L361.6 155.4 L362.6 153.8 L363.6 152.3 L364.6 149.7 L365.6 147.8 L366.6 145.6 L367.6 143.9 L368.6 142.3 L369.6 140.6 L370.6 138.3 L371.6 136.3 L372.6 135.1 L373.6 133.2 L374.6 131.6 L375.6 130.2 L376.6 128.2 L377.6 127.3 L378.6 125.7 L379.6 124.9 L380.6 123.6 L381.6 122.1 L382.6 120.7 L383.6 119.4 L384.6 118.5 L385.6 117.3 L386.6 116.7 L387.6 114.9 L388.6 114.2 L389.6 113.1 L390.6 112.5 L391.6 111.1 L392.6 110.5 L393.6 109.4 L394.6 109.3 L395.6 108.5 L396.6 107.4 L397.6 106.8 L398.6 105.6 L399.6 104.8 L400.6 103.8 L401.6 103.4 L402.6 103.1 L403.6 103.0 L404.6 101.6 L405.6 101.3 L406.6 100.6 L407.6 99.9 L408.6 99.1 L409.6 99.3 L410.6 98.7 L411.6 98.4 L412.6 98.3 L413.6 97.5 L414.6 97.3 L415.6 96.2 L416.6 95.5 L417.6 95.3 L418.6 95.0 L419.6 94.8 L420.6 94.0 L421.6 94.2 L422.6 93.6 L423.6 92.6 L424.6 92.6 L425.6 92.1 L426.6 92.0 L427.6 91.5 L428.6 91.2 L429.6 91.3 L430.6 90.1 L431.6 89.6 L432.6 89.9 L433.6 88.8 L434.6 89.0 L435.6 88.2 L436.6 88.3 L437.6 87.8 L438.6 87.8 L439.6 88.0 L440.6 87.0 L441.6 86.5 L442.6 85.8 L443.6 86.0 L444.6 85.0 L445.6 84.8 L446.6 84.5 L447.6 84.3 L448.6 84.3 L449.6 83.7 L450.6 83.5 L451.6 83.2 L452.6 82.8 L453.6 82.5 L454.6 81.9 L455.6 81.6 L456.6 81.6 L457.6 80.8 L458.6 81.2 L459.6 80.2 L460.6 80.7 L461.6 80.1 L462.6 79.2 L463.6 79.1 L464.6 78.5 L465.6 78.8 L466.6 78.3 L467.6 77.7 L468.6 77.2 L469.6 77.4 L470.6 76.9 L471.6 76.7 L472.6 76.5 L473.6 76.1 L474.6 75.4 L475.6 74.9 L476.6 74.8 L477.6 74.6 L478.6 74.5 L479.6 73.6 L480.6 72.9 L481.6 73.1 L482.6 72.9 L483.6 73.1 L484.6 72.5 L485.6 72.0 L486.6 71.6 L487.6 71.5 L488.6 71.5 L489.6 71.4 L490.6 70.2 L491.6 69.9 L492.6 69.8 L493.6 69.5 L494.6 68.9 L495.6 69.1 L496.6 68.6 L497.6 68.2 L498.6 68.0 L499.6 67.8 L500.6 68.3 L501.6 67.6 L502.6 67.2 L503.6 67.7 L504.6 66.8 L505.6 66.5 L506.6 66.2 L507.6 66.3 L508.6 66.3 L509.6 64.9 L510.6 65.2 L511.6 65.7 L512.6 65.0 L513.6 65.1 L514.6 64.5 L515.6 64.1 L516.6 64.1 L517.6 64.3 L518.6 64.2 L519.6 63.0 L520.6 63.3 L521.6 63.0 L522.6 63.1 L523.6 62.6 L524.6 62.5 L525.6 62.4 L526.6 62.0 L527.6 62.1 L528.6 62.6 L529.6 62.4 L530.6 61.9 L531.6 62.0 L532.6 61.7 L533.6 61.8 L534.6 62.0 L535.6 61.6 L536.6 61.6 L537.6 61.7 L538.6 61.6 L539.6 61.1 L540.6 61.0 L541.6 61.4 L542.6 62.2 L543.6 61.7 L544.6 61.2 L545.6 61.6 L546.6 61.4 L547.6 60.9 L548.6 61.8 L549.6 61.7 L550.6 61.6 L551.6 61.3 L552.6 61.6 L553.6 61.9 L554.6 61.6 L555.6 62.3 L556.6 62.0 L557.6 62.0 L558.6 62.2 L559.6 62.8 L560.6 62.3 L561.6 62.8 L562.6 62.5 L563.6 63.1 L564.6 62.8 L565.6 63.8 L566.6 63.9 L567.6 64.6 L568.6 64.5 L569.6 64.4 L570.6 64.3 L571.6 64.2 L572.6 64.9 L573.6 65.6 L574.6 65.6 L575.6 65.5 L576.6 66.2 L577.6 65.9 L578.6 66.5 L579.6 67.6 L580.6 68.0 L581.6 68.1 L582.6 68.4 L583.6 69.4 L584.6 68.8 L585.6 69.3 L586.6 69.5 L587.6 70.4 L588.6 70.5 L589.6 71.0 L590.6 71.3 L591.6 71.6 L592.6 72.3 L593.6 72.8 L594.6 74.1 L595.6 73.1 L596.6 74.2 L597.6 75.4 L598.6 75.0 L599.6 76.1 L600.6 76.7 L601.6 77.0 L602.6 77.5 L603.6 78.7 L604.6 78.4 L605.6 79.5 L606.6 79.9 L607.6 80.9 L608.6 81.4 L609.6 82.1 L610.6 82.6 L611.6 82.7 L612.6 84.2 L613.6 85.0 L614.6 86.0 L615.6 86.4 L616.6 86.9 L617.6 87.6 L618.6 87.9 L619.6 88.7 L620.6 90.0 L621.6 90.6 L622.6 91.3 L623.6 92.4 L624.6 93.1 L625.6 93.6 L626.6 94.3 L627.6 95.1 L628.6 96.1 L629.6 97.3 L630.6 98.3 L631.6 99.5 L632.6 99.7 L633.6 100.8 L634.6 101.7 L635.6 102.2 L636.6 103.1 L637.6 104.4 L638.6 105.7 L639.6 106.6 L640.6 107.5 L641.6 107.9 L642.6 110.0 L643.6 110.6 L644.6 112.2 L645.6 112.4 L646.6 113.5 L647.6 114.9 L648.6 116.3 L649.6 117.3 L650.6 118.5 L651.6 119.4 L652.6 120.7 L653.6 121.6 L654.6 123.4 L655.6 123.8 L656.6 124.4 L657.6 126.1 L658.6 127.1 L659.6 128.4 L660.6 129.6 L661.6 131.3 L662.6 132.6 L663.6 133.9 L664.6 135.1 L665.6 136.3 L666.6 137.1 L667.6 138.5 L668.6 140.2 L669.6 141.7 L670.6 142.9 L671.6 144.0 L672.6 145.8 L673.6 146.7 L674.6 148.7 L675.6 149.8 L676.6 150.6 L677.6 152.6 L678.6 153.9 L679.6 155.0 L680.6 156.1 L681.6 157.7 L682.6 159.8 L683.6 161.0 L684.6 162.5 L685.6 163.1 L686.6 165.2 L687.6 166.7 L688.6 167.8 L689.6 169.7 L690.6 170.8 L691.6 172.6 L692.6 174.3 L693.6 175.5 L694.6 176.7 L695.6 178.5 L696.6 180.3 L697.6 181.4 L698.6 183.1 L699.6 185.0 L700.6 186.9 L701.6 187.9 L702.6 189.5 L703.6 191.1 L704.6 192.2 L705.6 193.6 L706.6 195.6 L707.6 197.1 L708.6 198.6 L709.6 199.8 L710.6 202.1 L711.6 203.7 L712.6 205.1 L713.6 206.2 L714.6 208.5 L715.6 209.6 L716.6 210.4 L717.6 212.7 L718.6 214.0 L719.6 215.9 L720.6 217.8 L721.6 219.2 L722.6 220.3 L723.6 222.5 L724.6 223.7 L725.6 225.6 L726.6 227.3 L727.6 228.4 L728.6 230.1 L729.6 232.0 L730.6 233.8 L731.6 235.3 L732.6 237.4 L733.6 238.9 L734.6 240.2 L735.6 241.3 L736.6 243.1 L737.6 244.9 L738.6 246.0 L739.6 248.0 L740.6 249.5 L741.6 251.1 L742.6 252.9 L743.6 254.5 L744.6 255.8 L745.6 256.9 L746.6 259.1 L747.6 260.5 L748.6 262.4 L749.6 263.5 L750.6 265.0 L751.6 267.0 L752.6 268.7 L753.6 270.1 L754.6 272.1 L755.6 273.2 L756.6 275.0 L757.6 276.9 L758.6 277.8 L759.6 280.2 L760.6 281.7 L761.6 283.5 L762.6 284.7 L763.6 285.9 L764.6 287.3 L765.6 289.2 L766.6 291.2 L767.6 292.5 L768.6 293.7 L769.6 296.1 L770.6 297.6 L771.6 299.4 L772.6 300.2 L773.6 301.8 L774.6 303.9 L775.6 305.5 L776.6 306.9 L777.6 308.4 L778.6 309.6 L779.6 311.2 L780.6 313.1 L781.6 314.5 L782.6 316.1 L783.6 318.0 L784.6 319.2 L785.6 320.4 L786.6 322.8 L787.6 323.9 L788.6 326.2 L789.6 326.8 L790.6 328.3 L791.6 331.2 L792.6 332.0 L793.6 333.1 L794.6 334.9 L795.6 336.3 L796.6 338.5 L797.6 339.9 L798.6 340.8 L799.6 342.5 L800.6 344.7 L801.6 346.1 L802.6 347.1 L803.6 348.9 L804.6 350.8 L805.6 352.5 L806.6 353.7 L807.6 355.2 L808.6 357.0 L809.6 357.9 L810.6 359.9 L811.6 361.6 L812.6 363.5 L813.6 364.5 L814.6 365.7 L815.6 367.3 L816.6 368.6 L817.6 370.7 L818.6 372.1 L819.6 373.4 L820.6 375.3 L821.6 377.1 L822.6 377.7 L823.6 379.8 L824.6 381.2 L825.6 382.6 L826.6 384.0 L827.6 386.1 L828.6 387.3 L829.6 388.7 L830.6 390.7 L831.6 391.7 L832.6 392.7 L833.6 394.6 L834.6 396.1 L835.6 397.8 L836.6 399.7 L837.6 401.1 L838.6 401.9 L839.6 403.7 L840.6 405.3 L841.6 406.8 L842.6 408.8 L843.6 410.1 L844.6 410.9 L845.6 413.0 L846.6 414.3 L847.6 415.2 L848.6 417.1 L849.6 418.9 L850.6 420.6 L851.6 422.1 L852.6 422.8 L853.6 424.4 L854.6 426.2 L855.6 426.8 L856.6 429.2 L857.6 430.4 L858.6 432.4 L859.6 433.3 L860.6 434.4 L861.6 436.6 L862.6 437.7 L863.6 439.0 L864.6 440.5 L865.6 441.7 L866.6 443.4 L867.6 444.9 L868.6 446.1 L869.6 447.8 L870.6 449.2 L871.6 450.6 L872.6 452.0 L873.6 453.5 L874.6 454.9 L875.6 456.3 L876.6 457.7 L877.6 459.1 L878.6 460.5 L879.6 461.9 L880.6 463.3 L881.6 464.7 L882.6 466.1 L883.6 467.5 L884.6 468.9 L885.6 470.3 L886.6 471.7 L887.6 473.0 L888.6 474.4 L889.6 475.8 L890.6 477.2 L891.6 478.5 L892.6 479.9 L893.6 481.3 L894.6 482.6 L895.6 484.0 L896.6 485.4 L897.6 486.7 L898.6 488.1 L899.6 489.4 L900.6 490.8 L901.6 492.1 L902.6 493.4 L903.6 494.8 L904.6 496.1 L905.6 497.4 L906.6 498.8 L907.6 500.1 L908.6 501.4 L909.6 502.7 L910.6 504.0 L911.6 505.4 L912.6 506.7 L913.6 508.0 L914.6 509.3 L915.6 510.6 L916.6 511.9 L917.6 513.2 L918.6 514.4 L919.6 515.7 L920.6 517.0 L921.6 518.3 L922.6 519.6 L923.6 520.8 L924.6 522.1 L925.6 523.4 L926.6 524.6 L927.6 525.9 L928.6 527.1 L929.6 528.4 L930.6 529.6 L931.6 530.9 L932.6 532.1 L933.6 533.4 L934.6 534.6 L935.6 535.8 L936.6 537.0 L937.6 538.3 L938.6 539.5 L939.6 540.7 L940.6 541.9 L941.6 543.1 L942.6 544.3 L943.6 545.5 L944.6 546.7 L945.6 547.9 L946.6 549.1 L947.6 550.3 L948.6 551.5 L949.6 552.6 L950.6 553.8 L951.6 555.0 L952.6 556.1 L953.6 557.3 L954.6 558.5 L955.6 559.6 L956.6 560.8 L957.6 561.9 L958.6 563.0 L959.6 564.2 L960.6 565.3 L961.6 566.4 L962.6 567.6 L963.6 568.7 L964.5 569.7" stroke="#0606f0" stroke-width="4.00"/>
<path d="M127.6 229.0 L128.6 229.0 L129.6 229.1 L130.6 228.9 L131.6 229.1 L132.6 229.0 L133.6 228.7 L134.6 228.8 L135.6 228.9 L136.6 228.5 L137.6 228.7 L138.6 229.2 L139.6 227.9 L140.6 228.4 L141.6 228.7 L142.6 229.1 L143.6 228.7 L144.6 229.1 L145.6 228.3 L146.6 228.4 L147.6 228.2 L148.6 228.3 L149.6 228.4 L150.6 228.4 L151.6 228.7 L152.6 228.5 L153.6 228.4 L154.6 228.4 L155.6 228.5 L156.6 228.0 L157.6 228.3 L158.6 227.9 L159.6 228.1 L160.6 228.3 L161.6 227.9 L162.6 228.5 L163.6 228.0 L164.6 228.4 L165.6 228.0 L166.6 227.8 L167.6 228.2 L168.6 227.5 L169.6 228.2 L170.6 228.0 L171.6 228.2 L172.6 228.3 L173.6 228.0 L174.6 228.0 L175.6 227.7 L176.6 227.7 L177.6 228.0 L178.6 228.2 L179.6 228.5 L180.6 227.7 L181.6 228.3 L182.6 227.9 L183.6 228.2 L184.6 228.3 L185.6 228.1 L186.6 228.1 L187.6 228.5 L188.6 227.6 L189.6 228.9 L190.6 228.0 L191.6 228.2 L192.6 228.3 L193.6 228.4 L194.6 228.3 L195.6 228.2 L196.6 228.2 L197.6 228.3 L198.6 228.7 L199.6 228.6 L200.6 228.4 L201.6 228.5 L202.6 228.5 L203.6 228.0 L204.6 228.4 L205.6 228.4 L206.6 227.9 L207.6 228.6 L208.6 228.2 L209.6 228.6 L210.6 228.9 L211.6 228.2 L212.6 228.3 L213.6 228.3 L214.6 228.0 L215.6 228.2 L216.6 228.6 L217.6 228.9 L218.6 228.9 L219.6 229.6 L220.6 229.5 L221.6 230.3 L222.6 231.7 L223.6 232.7 L224.6 233.3 L225.6 235.1 L226.6 236.1 L227.6 237.5 L228.6 237.8 L229.6 238.3 L230.6 239.0 L231.6 239.7 L232.6 240.4 L233.6 240.8 L234.6 241.3 L235.6 241.9 L236.6 242.6 L237.6 243.3 L238.6 243.9 L239.6 244.2 L240.6 244.8 L241.6 245.4 L242.6 246.4 L243.6 246.6 L244.6 247.2 L245.6 247.5 L246.6 247.8 L247.6 248.3 L248.6 248.5 L249.6 249.2 L250.6 248.8 L251.6 249.4 L252.6 249.4 L253.6 249.4 L254.6 249.4 L255.6 248.9 L256.6 249.1 L257.6 248.6 L258.6 248.0 L259.6 247.8 L260.6 247.5 L261.6 247.1 L262.6 246.0 L263.6 245.2 L264.6 244.5 L265.6 243.5 L266.6 242.0 L267.6 241.6 L268.6 240.2 L269.6 239.0 L270.6 238.0 L271.6 236.5 L272.6 235.8 L273.6 235.2 L274.6 234.2 L275.6 233.1 L276.6 232.8 L277.6 231.2 L278.6 230.2 L279.6 229.5 L280.6 229.0 L281.6 227.9 L282.6 227.0 L283.6 225.8 L284.6 224.7 L285.6 223.7 L286.6 222.8 L287.6 222.1 L288.6 220.5 L289.6 219.2 L290.6 217.4 L291.6 215.8 L292.6 214.2 L293.6 211.0 L294.6 208.1 L295.6 206.1 L296.6 203.6 L297.6 202.5 L298.6 202.5 L299.6 204.5 L300.6 206.8 L301.6 211.2 L302.6 216.3 L303.6 220.7 L304.6 223.4 L305.6 225.3 L306.6 226.7 L307.6 228.2 L308.6 229.0 L309.6 230.2 L310.6 231.2 L311.6 231.9 L312.6 233.1 L313.6 233.3 L314.6 234.0 L315.6 235.2 L316.6 235.9 L317.6 237.0 L318.6 237.8 L319.6 238.1 L320.6 239.1 L321.6 239.8 L322.6 240.4 L323.6 240.8 L324.6 241.0 L325.6 241.6 L326.6 242.0 L327.6 242.0 L328.6 242.6 L329.6 242.4 L330.6 242.7 L331.6 242.2 L332.6 241.0 L333.6 240.7 L334.6 239.7 L335.6 238.8 L336.6 237.1 L337.6 235.1 L338.6 233.1 L339.6 231.0 L340.6 229.0 L341.6 226.9 L342.6 224.8 L343.6 221.9 L344.6 218.2 L345.6 215.1 L346.6 211.3 L347.6 208.0 L348.6 205.3 L349.6 201.7 L350.6 197.0 L351.6 193.0 L352.6 188.3 L353.6 183.4 L354.6 179.2 L355.6 176.1 L356.6 172.9 L357.6 169.9 L358.6 166.7 L359.6 163.3 L360.6 160.5 L361.6 157.7 L362.6 155.0 L363.6 152.0 L364.6 149.6 L365.6 147.2 L366.6 144.6 L367.6 141.9 L368.6 139.9 L369.6 137.7 L370.6 135.1 L371.6 132.4 L372.6 129.7 L373.6 128.2 L374.6 125.7 L375.6 123.4 L376.6 121.4 L377.6 119.6 L378.6 117.6 L379.6 115.7 L380.6 114.3 L381.6 112.9 L382.6 110.7 L383.6 109.7 L384.6 107.7 L385.6 106.9 L386.6 105.4 L387.6 104.3 L388.6 102.7 L389.6 102.4 L390.6 100.7 L391.6 99.1 L392.6 97.9 L393.6 97.5 L394.6 96.7 L395.6 96.0 L396.6 95.7 L397.6 94.5 L398.6 93.5 L399.6 93.0 L400.6 92.2 L401.6 91.5 L402.6 90.7 L403.6 89.9 L404.6 90.0 L405.6 89.7 L406.6 88.8 L407.6 88.3 L408.6 88.4 L409.6 87.4 L410.6 87.2 L411.6 86.7 L412.6 86.4 L413.6 86.5 L414.6 85.5 L415.6 84.4 L416.6 84.8 L417.6 84.8 L418.6 84.5 L419.6 83.9 L420.6 83.2 L421.6 82.8 L422.6 82.3 L423.6 82.4 L424.6 81.8 L425.6 82.1 L426.6 81.8 L427.6 81.1 L428.6 81.7 L429.6 81.0 L430.6 80.5 L431.6 79.4 L432.6 79.8 L433.6 78.7 L434.6 78.6 L435.6 78.4 L436.6 78.2 L437.6 78.0 L438.6 76.9 L439.6 76.4 L440.6 76.5 L441.6 76.6 L442.6 75.5 L443.6 74.7 L444.6 74.7 L445.6 74.0 L446.6 74.1 L447.6 73.8 L448.6 73.6 L449.6 72.9 L450.6 72.0 L451.6 72.4 L452.6 72.5 L453.6 71.8 L454.6 71.8 L455.6 71.5 L456.6 71.8 L457.6 71.2 L458.6 71.5 L459.6 71.3 L460.6 72.4 L461.6 72.3 L462.6 71.7 L463.6 72.2 L464.6 72.7 L465.6 72.9 L466.6 73.2 L467.6 73.4 L468.6 73.6 L469.6 74.1 L470.6 73.5 L471.6 73.3 L472.6 72.7 L473.6 73.1 L474.6 72.4 L475.6 71.6 L476.6 70.7 L477.6 70.5 L478.6 69.1 L479.6 69.5 L480.6 69.1 L481.6 68.5 L482.6 68.7 L483.6 68.7 L484.6 67.6 L485.6 67.1 L486.6 67.1 L487.6 67.3 L488.6 66.7 L489.6 66.0 L490.6 65.5 L491.6 65.9 L492.6 65.8 L493.6 65.1 L494.6 64.6 L495.6 64.7 L496.6 64.3 L497.6 64.0 L498.6 63.8 L499.6 64.1 L500.6 64.2 L501.6 63.3 L502.6 63.2 L503.6 63.8 L504.6 63.1 L505.6 62.9 L506.6 62.9 L507.6 62.7 L508.6 62.7 L509.6 62.5 L510.6 63.0 L511.6 62.3 L512.6 62.6 L513.6 62.1 L514.6 61.9 L515.6 61.7 L516.6 61.7 L517.6 62.1 L518.6 62.4 L519.6 62.0 L520.6 61.9 L521.6 62.5 L522.6 62.1 L523.6 62.4 L524.6 62.8 L525.6 61.7 L526.6 62.5 L527.6 62.3 L528.6 61.6 L529.6 62.6 L530.6 62.6 L531.6 63.0 L532.6 62.8 L533.6 62.9 L534.6 63.1 L535.6 63.0 L536.6 63.1 L537.6 63.5 L538.6 63.5 L539.6 64.0 L540.6 63.9 L541.6 64.3 L542.6 64.2 L543.6 64.6 L544.6 64.8 L545.6 64.6 L546.6 64.9 L547.6 65.2 L548.6 65.8 L549.6 66.2 L550.6 66.3 L551.6 65.9 L552.6 66.3 L553.6 67.3 L554.6 67.2 L555.6 67.6 L556.6 68.2 L557.6 68.9 L558.6 68.3 L559.6 69.0 L560.6 69.1 L561.6 69.7 L562.6 70.1 L563.6 69.5 L564.6 70.4 L565.6 70.8 L566.6 71.3 L567.6 71.4 L568.6 72.0 L569.6 72.5 L570.6 73.4 L571.6 73.4 L572.6 74.0 L573.6 73.9 L574.6 75.1 L575.6 74.8 L576.6 75.3 L577.6 75.7 L578.6 76.4 L579.6 77.1 L580.6 77.0 L581.6 77.9 L582.6 78.5 L583.6 79.1 L584.6 79.6 L585.6 79.9 L586.6 80.6 L587.6 81.5 L588.6 82.0 L589.6 82.5 L590.6 83.5 L591.6 83.9 L592.6 84.2 L593.6 84.8 L594.6 85.2 L595.6 86.2 L596.6 87.0 L597.6 87.6 L598.6 88.0 L599.6 89.3 L600.6 90.1 L601.6 90.8 L602.6 90.5 L603.6 91.8 L604.6 92.9 L605.6 93.7 L606.6 94.3 L607.6 94.8 L608.6 95.7 L609.6 96.5 L610.6 97.1 L611.6 97.9 L612.6 98.7 L613.6 99.5 L614.6 100.9 L615.6 101.8 L616.6 102.8 L617.6 102.8 L618.6 104.3 L619.6 105.5 L620.6 105.9 L621.6 106.8 L622.6 108.4 L623.6 108.7 L624.6 109.5 L625.6 110.0 L626.6 111.5 L627.6 112.8 L628.6 113.8 L629.6 113.9 L630.6 115.7 L631.6 116.5 L632.6 117.6 L633.6 118.2 L634.6 119.0 L635.6 120.6 L636.6 121.8 L637.6 123.5 L638.6 124.1 L639.6 125.1 L640.6 126.3 L641.6 127.8 L642.6 128.4 L643.6 130.0 L644.6 131.0 L645.6 132.3 L646.6 132.8 L647.6 133.9 L648.6 134.9 L649.6 136.5 L650.6 138.0 L651.6 139.2 L652.6 139.9 L653.6 141.4 L654.6 142.9 L655.6 143.9 L656.6 145.7 L657.6 146.6 L658.6 147.8 L659.6 150.0 L660.6 151.2 L661.6 151.9 L662.6 153.6 L663.6 154.5 L664.6 156.0 L665.6 157.2 L666.6 159.1 L667.6 159.9 L668.6 161.2 L669.6 163.1 L670.6 164.5 L671.6 165.6 L672.6 167.0 L673.6 168.4 L674.6 169.5 L675.6 171.2 L676.6 172.8 L677.6 174.0 L678.6 175.8 L679.6 177.3 L680.6 178.6 L681.6 179.9 L682.6 182.1 L683.6 183.1 L684.6 184.4 L685.6 185.9 L686.6 187.5 L687.6 188.9 L688.6 190.5 L689.6 191.7 L690.6 193.5 L691.6 194.8 L692.6 196.0 L693.6 198.0 L694.6 199.5 L695.6 201.1 L696.6 201.9 L697.6 203.7 L698.6 205.4 L699.6 206.9 L700.6 208.3 L701.6 209.8 L702.6 211.3 L703.6 212.8 L704.6 214.3 L705.6 215.8 L706.6 217.4 L707.6 218.9 L708.6 220.4 L709.6 221.9 L710.6 223.4 L711.6 224.9 L712.6 226.4 L713.6 227.9 L714.6 229.4 L715.6 230.9 L716.6 232.4 L717.6 233.9 L718.6 235.4 L719.6 236.9 L720.6 238.4 L721.6 239.9 L722.6 241.4 L723.6 242.9 L724.6 244.4 L725.6 245.9 L726.6 247.4 L727.6 248.9 L728.6 250.4 L729.6 251.9 L730.6 253.4 L731.6 254.9 L732.6 256.4 L733.6 257.9 L734.6 259.4 L735.6 260.9 L736.6 262.3 L737.6 263.8 L738.6 265.3 L739.6 266.8 L740.6 268.3 L741.6 269.8 L742.6 271.3 L743.6 272.8 L744.6 274.2 L745.6 275.7 L746.6 277.2 L747.6 278.7 L748.6 280.2 L749.6 281.6 L750.6 283.1 L751.6 284.6 L752.6 286.1 L753.6 287.6 L754.6 289.0 L755.6 290.5 L756.6 292.0 L757.6 293.5 L758.6 294.9 L759.6 296.4 L760.6 297.9 L761.6 299.3 L762.6 300.8 L763.6 302.3 L764.6 303.7 L765.6 305.2 L766.6 306.7 L767.6 308.1 L768.6 309.6 L769.6 311.0 L770.6 312.5 L771.6 314.0 L772.6 315.4 L773.6 316.9 L774.6 318.3 L775.6 319.8 L776.6 321.2 L777.6 322.7 L778.6 324.1 L779.6 325.6 L780.6 327.0 L781.6 328.5 L782.6 329.9 L783.6 331.4 L784.6 332.8 L785.6 334.3 L786.6 335.7 L787.6 337.1 L788.6 338.6 L789.6 340.0 L790.6 341.5 L791.6 342.9 L792.6 344.3 L793.6 345.8 L794.6 347.2 L795.6 348.6 L796.6 350.1 L797.6 351.5 L798.6 352.9 L799.6 354.3 L800.6 355.8 L801.6 357.2 L802.6 358.6 L803.6 360.0 L804.6 361.5 L805.6 362.9 L806.6 364.3 L807.6 365.7 L808.6 367.1 L809.6 368.5 L810.6 369.9 L811.6 371.4 L812.6 372.8 L813.6 374.2 L814.6 375.6 L815.6 377.0 L816.6 378.4 L817.6 379.8 L818.6 381.2 L819.6 382.6 L820.6 384.0 L821.6 385.4 L822.6 386.8 L823.6 388.2 L824.6 389.6 L825.6 391.0 L826.6 392.4 L827.6 393.7 L828.6 395.1 L829.6 396.5 L830.6 397.9 L831.6 399.3 L832.6 400.7 L833.6 402.1 L834.6 403.4 L835.6 404.8 L836.6 406.2 L837.6 407.6 L838.6 408.9 L839.6 410.3 L840.6 411.7 L841.6 413.0 L842.6 414.4 L843.6 415.8 L844.6 417.1 L845.6 418.5 L846.6 419.9 L847.6 421.2 L848.6 422.6 L849.6 424.0 L850.6 425.3 L851.6 426.7 L852.6 428.0 L853.6 429.4 L854.6 430.7 L855.6 432.1 L856.6 433.4 L857.6 434.8 L858.6 436.1 L859.6 437.5 L860.6 438.8 L861.6 440.1 L862.6 441.5 L863.6 442.8 L864.6 444.2 L865.6 445.5 L866.6 446.8 L867.6 448.2 L868.6 449.5 L869.6 450.8 L870.6 452.1 L871.6 453.5 L872.6 454.8 L873.6 456.1 L874.6 457.4 L875.6 458.8 L876.6 460.1 L877.6 461.4 L878.6 462.7 L879.6 464.0 L880.6 465.3 L881.6 466.6 L882.6 468.0 L883.6 469.3 L884.6 470.6 L885.6 471.9 L886.6 473.2 L887.6 474.5 L888.6 475.8 L889.6 477.1 L890.6 478.4 L891.6 479.7 L892.6 481.0 L893.6 482.3 L894.6 483.5 L895.6 484.8 L896.6 486.1 L897.6 487.4 L898.6 488.7 L899.6 490.0 L900.6 491.3 L901.6 492.5 L902.6 493.8 L903.6 495.1 L904.6 496.4 L905.6 497.6 L906.6 498.9 L907.6 500.2 L908.6 501.5 L909.6 502.7 L910.6 504.0 L911.6 505.2 L912.6 506.5 L913.6 507.8 L914.6 509.0 L915.6 510.3 L916.6 511.5 L917.6 512.8 L918.6 514.0 L919.6 515.3 L920.6 516.5 L921.6 517.8 L922.6 519.0 L923.6 520.3 L924.6 521.5 L925.6 522.8 L926.6 524.0 L927.6 525.2 L928.6 526.5 L929.6 527.7 L930.6 528.9 L931.6 530.2 L932.6 531.4 L933.6 532.6 L934.6 533.9 L935.6 535.1 L936.6 536.3 L937.6 537.5 L938.6 538.7 L939.6 540.0 L940.6 541.2 L941.6 542.4 L942.6 543.6 L943.6 544.8 L944.6 546.0 L945.6 547.2 L946.6 548.4 L947.6 549.6 L948.6 550.8 L949.6 552.0 L950.6 553.2 L951.6 554.4 L952.6 555.6 L953.6 556.8 L954.6 558.0 L955.6 559.2 L956.6 560.4 L957.6 561.6 L958.6 562.8 L959.6 563.9 L960.6 565.1 L961.6 566.3 L962.6 567.5 L963.6 568.7 L964.5 569.7" stroke="#000000" stroke-width="4.00"/>
</g>
<rect x="127.6" y="11.6" width="836.9" height="583.4" fill="none" stroke="#000" stroke-width="3.0"/>
<line x1="118.0" y1="569.7" x2="127.6" y2="569.7" stroke="#222" stroke-width="2.0"/>
<line x1="118.0" y1="468.1" x2="127.6" y2="468.1" stroke="#222" stroke-width="2.0"/>
<line x1="118.0" y1="366.5" x2="127.6" y2="366.5" stroke="#222" stroke-width="2.0"/>
<line x1="118.0" y1="265.0" x2="127.6" y2="265.0" stroke="#222" stroke-width="2.0"/>
<line x1="118.0" y1="163.4" x2="127.6" y2="163.4" stroke="#222" stroke-width="2.0"/>
<line x1="118.0" y1="61.8" x2="127.6" y2="61.8" stroke="#222" stroke-width="2.0"/>
<line x1="127.6" y1="595.0" x2="127.6" y2="604.0" stroke="#222" stroke-width="2.0"/>
<line x1="336.8" y1="595.0" x2="336.8" y2="604.0" stroke="#222" stroke-width="2.0"/>
<line x1="546.0" y1="595.0" x2="546.0" y2="604.0" stroke="#222" stroke-width="2.0"/>
<line x1="755.3" y1="595.0" x2="755.3" y2="604.0" stroke="#222" stroke-width="2.0"/>
<line x1="964.5" y1="595.0" x2="964.5" y2="604.0" stroke="#222" stroke-width="2.0"/>
<g font-family="Liberation Sans" font-size="33.0" fill="#000">
<text x="103.0" y="581.2" text-anchor="end">0.0</text>
<text x="103.0" y="479.6" text-anchor="end">0.2</text>
<text x="103.0" y="378.0" text-anchor="end">0.4</text>
<text x="103.0" y="276.5" text-anchor="end">0.6</text>
<text x="103.0" y="174.9" text-anchor="end">0.8</text>
<text x="103.0" y="73.3" text-anchor="end">.0</text>
<path transform="translate(57.13 73.30) scale(0.01611 -0.01611)" d="M763 0L583 0L583 1147C540 1106 483 1064 413 1024C343 983 280 953 223 933L223 1107C323 1154 410 1211 485 1277C560 1344 613 1408 644 1466L763 1466Z" fill="#000"/>
<text x="127.6" y="648.5" text-anchor="middle">400</text>
<text x="336.8" y="648.5" text-anchor="middle">500</text>
<text x="546.0" y="648.5" text-anchor="middle">600</text>
<text x="755.3" y="648.5" text-anchor="middle">700</text>
<text x="964.5" y="648.5" text-anchor="middle">800</text>
</g>
<g font-family="Liberation Serif" fill="#000">
<text x="547.4" y="706.0" font-size="31.6" text-anchor="middle">Wavelength (nm)</text>
<text transform="translate(30.0 302.8) rotate(-90)" font-size="32.5" text-anchor="middle">A (a.u.)</text>
</g>
</g>
</svg>
</body></html>
